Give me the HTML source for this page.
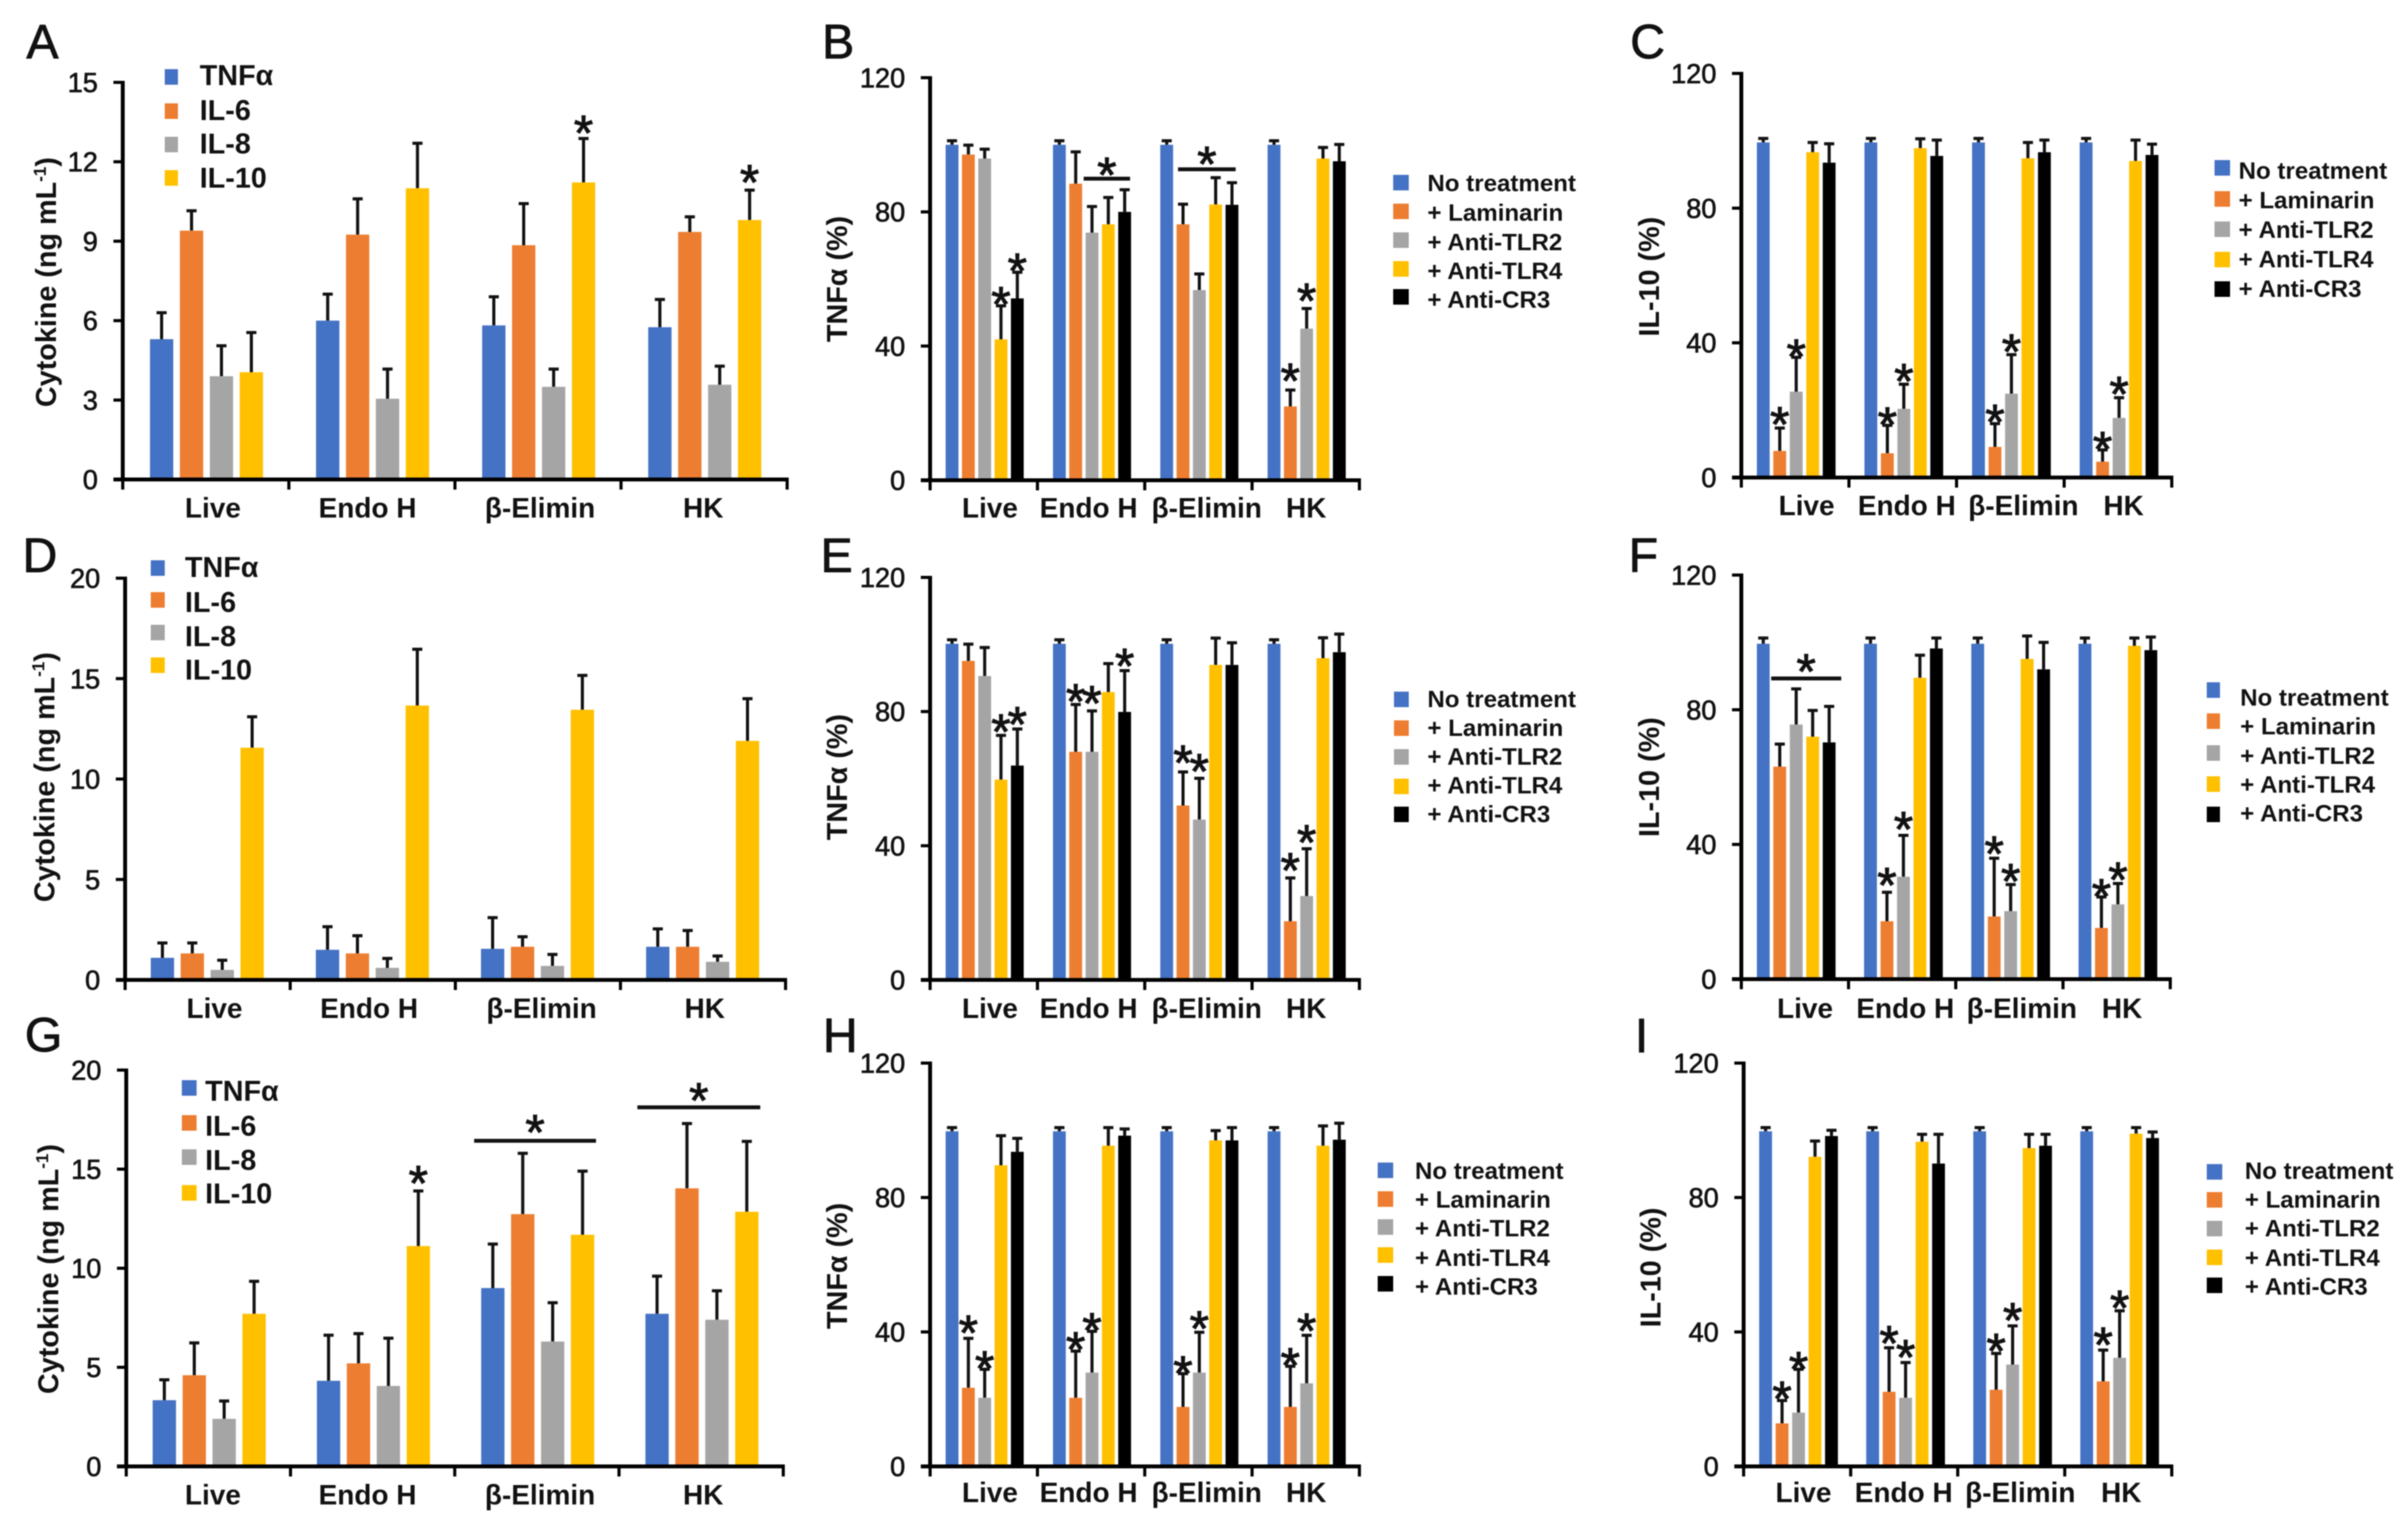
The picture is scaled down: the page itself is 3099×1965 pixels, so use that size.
<!DOCTYPE html>
<html lang="en">
<head>
<meta charset="utf-8">
<title>Cytokine responses by treatment</title>
<style>
html,body{margin:0;padding:0;background:#fff;width:3099px;height:1965px;overflow:hidden}
svg{display:block;filter:blur(.7px)}
text{font-family:"Liberation Sans",sans-serif;fill:#111}
</style>
</head>
<body>
<svg id="figure" xmlns="http://www.w3.org/2000/svg" width="3099" height="1965" viewBox="0 0 3099 1965"></svg>
<script>
/* ---------- shared categories and labels ---------- */
const categories = ["Live", "Endo H", "β-Elimin", "HK"];
const cytokineSeries = ["TNFα", "IL-6", "IL-8", "IL-10"];
const treatmentSeries = ["No treatment", "+ Laminarin", "+ Anti-TLR2", "+ Anti-TLR4", "+ Anti-CR3"];
const ticksA = [0, 3, 6, 9, 12, 15];
const ticksCytokine20 = [0, 5, 10, 15, 20];
const ticksPercent = [0, 40, 80, 120];

/* ---------- values: one row per series, one column per category ---------- */
const valuesA = [[5.3, 6.0, 5.82, 5.75], [9.4, 9.25, 8.85, 9.35], [3.9, 3.05, 3.5, 3.58], [4.05, 11.0, 11.22, 9.8]];
const errorsA = [[1.0, 1.0, 1.08, 1.05], [0.75, 1.35, 1.57, 0.57], [1.15, 1.12, 0.67, 0.7], [1.5, 1.7, 1.66, 1.13]];
const valuesB = [[100, 100, 100, 100], [97.1, 88.4, 76.3, 22], [95.9, 73.8, 56.7, 45.2], [42, 76.3, 82.2, 95.9], [54.2, 80, 82.1, 95.1]];
const errorsB = [[1.2, 1.2, 1.2, 1.2], [2.8, 9.5, 6, 4.9], [2.8, 7.8, 4.8, 6], [10, 8, 8, 3.3], [7.8, 6.6, 6.6, 5]];
const valuesC = [[99.5, 99.5, 99.5, 99.5], [7.9, 7.2, 9.1, 4.7], [25.5, 20.4, 24.9, 17.7], [96.6, 97.8, 94.8, 94], [93.5, 95.5, 96.6, 95.8]];
const errorsC = [[1.2, 1.2, 1.2, 1.2], [6.8, 8.3, 6.9, 3.5], [10.2, 7.3, 11.6, 6], [2.9, 2.8, 4.7, 6.2], [5.6, 4.7, 3.6, 3.2]];
const valuesD = [[1.1, 1.5, 1.55, 1.65], [1.32, 1.32, 1.65, 1.65], [0.5, 0.6, 0.7, 0.9], [11.56, 13.66, 13.45, 11.9]];
const errorsD = [[0.74, 1.15, 1.55, 0.89], [0.52, 0.88, 0.5, 0.81], [0.48, 0.47, 0.57, 0.29], [1.54, 2.8, 1.71, 2.1]];
const valuesE = [[100.2, 100.2, 100.2, 100.2], [95.1, 68, 52, 17.5], [90.6, 68, 47.8, 25], [59.7, 85.8, 93.9, 95.9], [63.9, 79.9, 93.9, 97.7]];
const errorsE = [[1.2, 1.2, 1.2, 1.2], [5, 14.1, 10, 12.9], [8.5, 12.2, 12.3, 14.1], [13.2, 8.5, 8, 6.1], [10.9, 12.3, 6.6, 5.4]];
const valuesF = [[99.6, 99.6, 99.6, 99.6], [63.1, 17.2, 18.6, 15.2], [75.6, 30.4, 20.2, 22.2], [72, 89.5, 95.1, 99], [70.3, 98.2, 92, 97.7]];
const errorsF = [[1.7, 1.7, 1.7, 1.7], [6.7, 8.6, 17.3, 9.2], [10.6, 12.3, 7.9, 6.2], [7.8, 6.7, 6.8, 2.3], [10.7, 3.1, 8, 3.9]];
const valuesG = [[3.34, 4.32, 9, 7.7], [4.6, 5.2, 12.73, 14.03], [2.4, 4.06, 6.3, 7.4], [7.7, 11.12, 11.69, 12.85]];
const errorsG = [[1.03, 2.3, 2.22, 1.9], [1.63, 1.5, 3.07, 3.27], [0.9, 2.41, 1.96, 1.46], [1.64, 2.78, 3.21, 3.55]];
const valuesH = [[99.7, 99.7, 99.7, 99.7], [23.4, 20.4, 17.7, 17.7], [20.4, 27.9, 27.9, 24.7], [89.6, 95.4, 97, 95.4], [93.6, 98.4, 97, 97.2]];
const errorsH = [[1.1, 1.1, 1.1, 1.1], [14.7, 13.9, 9.9, 12.1], [8.5, 12.3, 12, 14.3], [8.8, 5.4, 2.9, 5.9], [4, 2, 3.8, 4.9]];
const valuesI = [[99.7, 99.7, 99.7, 99.7], [12.8, 22.2, 22.8, 25.3], [16, 20.4, 30.3, 32.3], [92.1, 96.6, 94.7, 99], [98.3, 90.1, 95.4, 97.7]];
const errorsI = [[1.1, 1.1, 1.1, 1.1], [6.8, 13.1, 10.8, 9.3], [12.9, 10.5, 11.5, 14], [4.7, 2.2, 4.1, 1.8], [1.7, 8.7, 3.4, 1.8]];

/* ---------- significance markers: [category, series] ---------- */
const starsA = [[2, 3], [3, 3]];
const starsB = [[0, 3], [0, 4], [3, 1], [3, 2]];
const starsC = [[0, 1], [0, 2], [1, 1], [1, 2], [2, 1], [2, 2], [3, 1], [3, 2]];
const starsD = [];
const starsE = [[0, 3], [0, 4], [1, 1], [1, 2], [1, 4], [2, 1], [2, 2], [3, 1], [3, 2]];
const starsF = [[1, 1], [1, 2], [2, 1], [2, 2], [3, 1], [3, 2]];
const starsG = [[1, 3]];
const starsH = [[0, 1], [0, 2], [1, 1], [1, 2], [2, 1], [2, 2], [3, 1], [3, 2]];
const starsI = [[0, 1], [0, 2], [1, 1], [1, 2], [2, 1], [2, 2], [3, 1], [3, 2]];

/* ---------- group brackets: [from category-unit, to category-unit, axis value] ---------- */
const bracketsB = [[1.431, 1.863, 89.9], [2.31, 2.847, 92.7]];
const bracketsF = [[0.2785, 0.9316, 89.3]];
const bracketsG = [[2.118, 2.86, 16.43], [3.112, 3.86, 18.12]];

/* ---------- layout (pixels), separate from the data ---------- */
const seriesColors = ["#4472C4", "#ED7D31", "#A5A5A5", "#FFC000", "#000000"];
const cytokineColors = ["#4472C4", "#ED7D31", "#A5A5A5", "#FFC000"];
const panels = [
  {id:"a", letter:"A", lx:34, ly:75, x0:158, x1:1013, yT:106, y0:617, max:15, ticks:ticksA, v:valuesA, e:errorsA, stars:starsA, lifts:[22,25], br:[], brLift:[], off:35, pitch:38.5, w:30, colors:cytokineColors, names:cytokineSeries, title:"cyto", tx:59, ty:363, catX:[274,473,695,905], catY:653,
    sw:[212,229], swY:[99,143,186,229], swH:20, legX:257, legY:[96,141,184,228], legSize:37},
  {id:"b", letter:"B", lx:1058, ly:75, x0:1197, x1:1749.5, yT:100, y0:618, max:120, ticks:ticksPercent, v:valuesB, e:errorsB, stars:starsB, lifts:[17,17,27,25], br:bracketsB, brLift:[20,22], off:20, pitch:21, w:16.5, colors:seriesColors, names:treatmentSeries, title:"TNFα (%)", tx:1077, ty:359, catX:[1274,1401,1553,1681], catY:653,
    sw:[1793,1813], swY:[235,272,309,346,382], swH:20, legX:1837, legY:[235,273,311,348,385], legSize:31},
  {id:"c", letter:"C", lx:2098, ly:75, x0:2241, x1:2795, yT:94.5, y0:614.5, max:120, ticks:ticksPercent, v:valuesC, e:errorsC, stars:starsC, lifts:[20,16,16,19,17,19,16,20], br:[], brLift:[], off:20, pitch:21.2, w:16.5, colors:seriesColors, names:treatmentSeries, title:"IL-10 (%)", tx:2122, ty:356, catX:[2325,2454,2604,2733], catY:650,
    sw:[2850,2870], swY:[216,256,295,334,372], swH:20, legX:2881, legY:[219,257,295,333,371], legSize:31},
  {id:"d", letter:"D", lx:29, ly:736, x0:161, x1:1011, yT:744, y0:1261, max:20, ticks:ticksCytokine20, v:valuesD, e:errorsD, stars:starsD, lifts:[], br:[], brLift:[], off:33, pitch:38.5, w:30, colors:cytokineColors, names:cytokineSeries, title:"cyto", tx:57, ty:1000, catX:[276,475,697,907], catY:1297,
    sw:[194,212], swY:[731,772,814,856], swH:20, legX:238, legY:[729,774,818,861], legSize:37},
  {id:"e", letter:"E", lx:1056, ly:736, x0:1197, x1:1749.5, yT:743, y0:1261, max:120, ticks:ticksPercent, v:valuesE, e:errorsE, stars:starsE, lifts:[20,21,19,25,21,27,24,25,23], br:[], brLift:[], off:20, pitch:21, w:16.5, colors:seriesColors, names:treatmentSeries, title:"TNFα (%)", tx:1077, ty:1000, catX:[1274,1401,1553,1681], catY:1297,
    sw:[1794,1813], swY:[900,937,974,1012,1048], swH:20, legX:1837, legY:[899,936,973,1010,1047], legSize:31},
  {id:"f", letter:"F", lx:2096, ly:736, x0:2241, x1:2793, yT:740, y0:1260, max:120, ticks:ticksPercent, v:valuesF, e:errorsF, stars:starsF, lifts:[24,23,21,19,16,20], br:bracketsF, brLift:[24], off:20, pitch:21.2, w:16.5, colors:seriesColors, names:treatmentSeries, title:"IL-10 (%)", tx:2122, ty:1000, catX:[2323,2452,2602,2731], catY:1297,
    sw:[2840,2857], swY:[888,928,969,1009,1048], swH:20, legX:2883, legY:[897,934,972,1009,1046], legSize:31},
  {id:"g", letter:"G", lx:32, ly:1353, x0:162.5, x1:1008, yT:1377, y0:1887, max:20, ticks:ticksCytokine20, v:valuesG, e:errorsG, stars:starsG, lifts:[25], br:bracketsG, brLift:[26,24], off:34, pitch:38.5, w:30, colors:cytokineColors, names:cytokineSeries, title:"cyto", tx:62, ty:1633, catX:[274,473,695,905], catY:1923,
    sw:[234,253], swY:[1400,1445,1489,1535], swH:20, legX:264, legY:[1403,1448,1492,1535], legSize:37},
  {id:"h", letter:"H", lx:1059, ly:1354, x0:1197, x1:1749.5, yT:1368, y0:1887, max:120, ticks:ticksPercent, v:valuesH, e:errorsH, stars:starsH, lifts:[22,16,17,16,15,20,16,21], br:[], brLift:[], off:20, pitch:21, w:16.5, colors:seriesColors, names:treatmentSeries, title:"TNFα (%)", tx:1077, ty:1629, catX:[1274,1401,1553,1681], catY:1920,
    sw:[1773,1793], swY:[1506,1543,1579,1615,1652], swH:20, legX:1821, legY:[1506,1543,1580,1618,1655], legSize:31},
  {id:"i", letter:"I", lx:2104, ly:1354, x0:2244, x1:2795, yT:1368, y0:1887, max:120, ticks:ticksPercent, v:valuesI, e:errorsI, stars:starsI, lifts:[17,15,21,22,18,22,22,19], br:[], brLift:[], off:20, pitch:21.2, w:16.5, colors:seriesColors, names:treatmentSeries, title:"IL-10 (%)", tx:2124, ty:1631, catX:[2321,2450,2600,2730], catY:1920,
    sw:[2840,2860], swY:[1508,1544,1581,1618,1654], swH:20, legX:2889, legY:[1506,1543,1580,1618,1655], legSize:31}
];

const NS = "http://www.w3.org/2000/svg";
const root = document.getElementById("figure");

function rect(parent, x, y, w, h, fill) {
  const r = document.createElementNS(NS, "rect");
  r.setAttribute("x", x);
  r.setAttribute("y", y);
  r.setAttribute("width", w);
  r.setAttribute("height", h);
  r.setAttribute("fill", fill);
  parent.appendChild(r);
  return r;
}
function label(parent, x, y, str, size, weight, anchor) {
  const t = document.createElementNS(NS, "text");
  t.setAttribute("x", x);
  t.setAttribute("y", y);
  t.setAttribute("font-size", size);
  t.setAttribute("font-weight", weight);
  t.setAttribute("text-anchor", anchor);
  t.textContent = str;
  parent.appendChild(t);
  return t;
}
function group(parent) {
  const g = document.createElementNS(NS, "g");
  parent.appendChild(g);
  return g;
}
function slug(s) {
  return s.toLowerCase().replace(/[^a-z0-9α-ω]+/g, "-").replace(/^-|-$/g, "");
}

panels.forEach(function (p) {
  const pg = group(root);
  
  

  const yScale = function (val) { return p.y0 - (val / p.max) * (p.y0 - p.yT); };
  const band = (p.x1 - p.x0) / categories.length;
  const xUnit = function (u) { return p.x0 + u * band; };
  const barX = function (c, s) { return xUnit(c) + p.off + s * p.pitch; };

  const letter = label(pg, p.lx, p.ly, p.letter, 62, "normal", "start");
  letter.setAttribute("stroke", "#111");
  letter.setAttribute("stroke-width", "1");
  
  

  /* bars and error bars */
  p.v.forEach(function (row, s) {
    row.forEach(function (val, c) {
      const bx = barX(c, s);
      const top = yScale(val);
      const errTop = yScale(val + p.e[s][c]);
      const mid = bx + p.w / 2;

      const stem = rect(pg, mid - 2, errTop, 4, top - errTop, "#111");
      
      

      const cap = rect(pg, mid - 6.5, errTop - 2, 13, 4, "#111");
      
      

      const bar = rect(pg, bx, top, p.w, p.y0 - top, p.colors[s]);
      
      
    });
  });

  /* axes */
  const yAxis = rect(pg, p.x0 - 2.5, p.yT - 2, 5, p.y0 - p.yT + 4, "#000");
  
  

  const xAxis = rect(pg, p.x0 - 12, p.y0 - 2.5, p.x1 - p.x0 + 14, 5, "#000");
  
  

  p.ticks.forEach(function (tv) {
    const ty = yScale(tv);
    const tick = rect(pg, p.x0 - 12, ty - 2, 12, 4, "#000");
    
    

    const tl = label(pg, p.x0 - 32, ty + 12.5, String(tv), 35, "normal", "end");
    tl.setAttribute("stroke", "#111");
    tl.setAttribute("stroke-width", "0.8");
    
    
  });

  for (let i = 0; i <= categories.length; i++) {
    const xt = rect(pg, xUnit(i) - 2, p.y0, 4, 13, "#000");
    
    
  }
  categories.forEach(function (cat, c) {
    const xl = label(pg, p.catX[c], p.catY + 13, cat, 36, "bold", "middle");
    
    
  });

  /* y-axis title */
  const title = label(pg, p.tx + 13, p.ty, "", 37, "bold", "middle");
  title.setAttribute("transform", "rotate(-90 " + (p.tx + 13) + " " + p.ty + ")");
  
  
  if (p.title === "cyto") {
    title.textContent = "Cytokine (ng mL";
    const sup = document.createElementNS(NS, "tspan");
    sup.setAttribute("font-size", "22");
    sup.setAttribute("dy", "-13");
    sup.textContent = "-1";
    title.appendChild(sup);
    const close = document.createElementNS(NS, "tspan");
    close.setAttribute("dy", "13");
    close.textContent = ")";
    title.appendChild(close);
  } else {
    title.textContent = p.title;
  }

  /* significance stars above error bars */
  p.stars.forEach(function (st, i) {
    const c = st[0], s = st[1];
    const cx = barX(c, s) + p.w / 2;
    const cy = yScale(p.v[s][c] + p.e[s][c]) - p.lifts[i];
    const star = label(pg, cx, cy + 37, "*", 64, "normal", "middle");
    star.setAttribute("stroke", "#111");
    star.setAttribute("stroke-width", "1.2");
    
    
  });

  /* brackets spanning several bars */
  p.br.forEach(function (b, i) {
    const bx0 = xUnit(b[0]), bx1 = xUnit(b[1]), by = yScale(b[2]);
    const line = rect(pg, bx0, by - 2.5, bx1 - bx0, 5, "#111");
    
    

    const star = label(pg, (bx0 + bx1) / 2, by - p.brLift[i] + 37, "*", 64, "normal", "middle");
    star.setAttribute("stroke", "#111");
    star.setAttribute("stroke-width", "1.2");
    
    
  });

  /* legend */
  const lg = group(pg);
  
  
  p.names.forEach(function (name, s) {
    const sw = rect(lg, p.sw[0], p.swY[s] - p.swH / 2, p.sw[1] - p.sw[0], p.swH, p.colors[s]);
    
    

    const tx = label(lg, p.legX, p.legY[s] + p.legSize * 0.36, name, p.legSize, "bold", "start");
    
    
  });
});
</script>
</body>
</html>
